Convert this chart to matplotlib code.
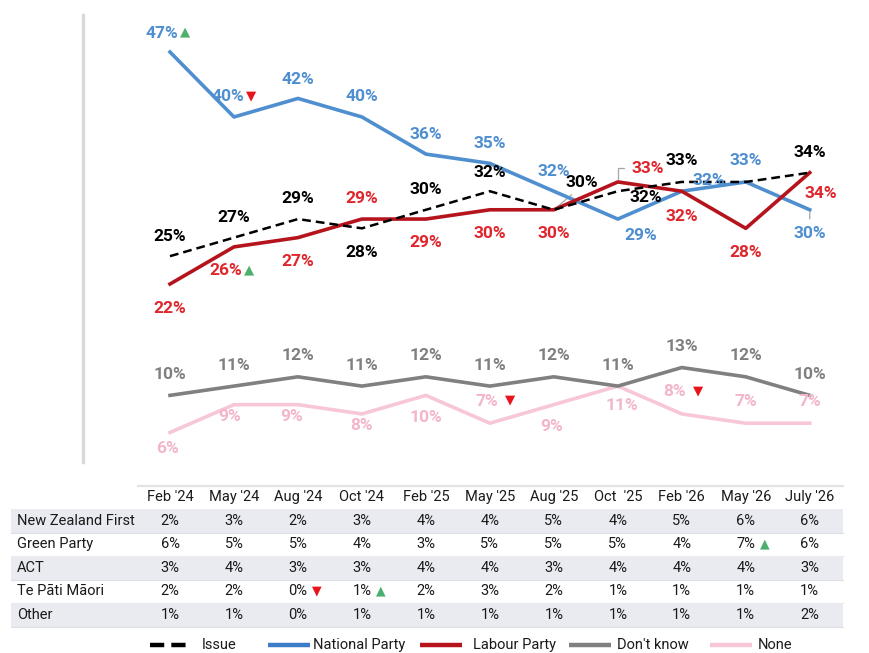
import matplotlib
matplotlib.use("Agg")
import matplotlib.pyplot as plt
from matplotlib.transforms import blended_transform_factory, offset_copy

plt.rcParams['font.family'] = ['Roboto', 'DejaVu Sans']

# ---------------- data ----------------
waves = ["Feb '24", "May '24", "Aug '24", "Oct '24", "Feb '25", "May '25",
         "Aug '25", "Oct  '25", "Feb '26", "May '26", "July '26"]
issue = [25, 27, 29, 28, 30, 32, 30, 32, 33, 33, 34]
national = [47, 40, 42, 40, 36, 35, 32, 29, 32, 33, 30]
labour = [22, 26, 27, 29, 29, 30, 30, 33, 32, 28, 34]
dont_know = [10, 11, 12, 11, 12, 11, 12, 11, 13, 12, 10]
none_ = [6, 9, 9, 8, 10, 7, 9, 11, 8, 7, 7]

# significance markers per series: index -> 'up' / 'down'
national_sig = {0: 'up', 1: 'down'}
labour_sig = {1: 'up'}
none_sig = {5: 'down', 8: 'down'}

table_rows = ["New Zealand First", "Green Party", "ACT", "Te Pāti Māori", "Other"]
nz_first = [2, 3, 2, 3, 4, 4, 5, 4, 5, 6, 6]
green = [6, 5, 5, 4, 3, 5, 5, 5, 4, 7, 6]
act = [3, 4, 3, 3, 4, 4, 3, 4, 4, 4, 3]
tpm = [2, 2, 0, 1, 2, 3, 2, 1, 1, 1, 1]
other = [1, 1, 0, 1, 1, 1, 1, 1, 1, 1, 2]
table_vals = [nz_first, green, act, tpm, other]
table_sig = {(3, 2): 'down', (3, 3): 'up', (1, 9): 'up'}

legend_labels = ['Issue', 'National Party', 'Labour Party', "Don't know", 'None']

# ---------------- style ----------------
C_BLUE = '#4f8fcf'
C_RED_LINE = '#b5141c'
C_RED_TXT = '#e0262d'
C_GREY = '#808080'
C_PINK_LINE = '#f7c7d9'
C_PINK_TXT = '#f3b5cc'
C_UP = '#4caf6e'
C_DOWN = '#e8141b'

W, H = 870, 653
fig = plt.figure(figsize=(W / 100, H / 100), dpi=100)

# full figure axes for table / legend (pixel coords)
tax = fig.add_axes([0, 0, 1, 1], zorder=0)
tax.set_xlim(0, W)
tax.set_ylim(H, 0)
tax.axis('off')

ax = fig.add_axes([83 / W, 1 - 462 / H, (843 - 83) / W, (462 - 15) / H], zorder=2)
ax.patch.set_alpha(0)
ax.set_xlim(-1.36, 10.52)
ax.set_ylim(2.82, 50.99)
for s in ['top', 'right', 'bottom']:
    ax.spines[s].set_visible(False)
ax.spines['left'].set_color('#d9d9d9')
ax.spines['left'].set_linewidth(2.4)
ax.set_xticks([])
ax.set_yticks([])

x = list(range(len(waves)))
ax.plot(x, none_, color=C_PINK_LINE, lw=2.6, zorder=3)
ax.plot(x, dont_know, color=C_GREY, lw=2.6, zorder=3)
ax.plot(x, national, color=C_BLUE, lw=2.6, zorder=4)
ax.plot(x, labour, color=C_RED_LINE, lw=2.6, zorder=5)
ax.plot(x, issue, color='black', lw=1.8, ls=(0, (3.5, 2)), zorder=6)

# label offsets in pixels (label centre relative to point)
nat_off = [(-8, -19), (-6, -20), (0, -19), (0, -20), (0, -20), (0, -20),
           (0, -20), (23, 16), (27, -11), (0, -21), (0, 24)]
lab_off = [(0, 24), (-8, 24), (0, 24), (0, -21), (0, 23), (0, 24),
           (0, 24), (30, -13), (0, 25), (0, 24), (11, 21)]
iss_off = [(0, -20), (0, -20), (0, -21), (0, 24), (0, -20), (0, -19),
           (28, -27), (28, 6), (0, -21), None, (0, -20)]
dk_off = [(0, -21)] * 11
none_off = [(-3, 16), (-4, 12), (-6, 12), (0, 12), (0, 22), (-3, -22),
            (-2, 22), (4, 19), (-7, -22), (0, -22), (0, -22)]


def put_labels(vals, offs, color, sig=None, size=12.5):
    sig = sig or {}
    for i, (v, o) in enumerate(zip(vals, offs)):
        if o is None:
            continue
        ax.annotate(f"{v}%", xy=(i, v), xytext=(o[0], -o[1]),
                    textcoords='offset pixels', ha='center', va='center',
                    color=color, fontsize=size, fontweight='bold', zorder=8,
                    annotation_clip=False)
        if i in sig:
            tri = '▲' if sig[i] == 'up' else '▼'
            tc = C_UP if sig[i] == 'up' else C_DOWN
            ax.annotate(tri, xy=(i, v), xytext=(o[0] + 23, -o[1] + 1),
                        textcoords='offset pixels', ha='center', va='center',
                        color=tc, fontsize=9.5, family='DejaVu Sans', zorder=8,
                        annotation_clip=False)


put_labels(national, nat_off, C_BLUE, national_sig)
put_labels(labour, lab_off, C_RED_TXT, labour_sig)
put_labels(issue, iss_off, 'black')
put_labels(dont_know, dk_off, C_GREY)
put_labels(none_, none_off, C_PINK_TXT, none_sig)

# leader lines
lead_kw = dict(color='#a6a6a6', lw=0.9)
ax.annotate('', xy=(10, national[10]), xytext=(0, -12), textcoords='offset pixels',
            arrowprops=dict(arrowstyle='-', **lead_kw), annotation_clip=False)
ax.annotate('', xy=(6, issue[6]), xytext=(20, 17), textcoords='offset pixels',
            arrowprops=dict(arrowstyle='-', **lead_kw), annotation_clip=False)
ax.annotate('', xy=(7, labour[7]), xytext=(9, 14), textcoords='offset pixels',
            arrowprops=dict(arrowstyle='-', connectionstyle='angle,angleA=0,angleB=90,rad=0',
                            **lead_kw), annotation_clip=False)

# ---------------- table ----------------
bt = blended_transform_factory(ax.transData, tax.transData)
bt_tri = offset_copy(bt, fig=fig, x=19, y=0, units='dots')
tax.plot([138, 843], [486, 486], color='#e3e3e3', lw=1.6)
header_y = 497
row_y = [521, 544, 568, 591, 615]
row_h = 23.5
for r, yy in enumerate(row_y):
    if r % 2 == 0:
        tax.add_patch(plt.Rectangle((11, yy - row_h / 2), 832, row_h,
                                    color='#e9ebf0', lw=0, zorder=0))
    tax.plot([11, 843], [yy + row_h / 2, yy + row_h / 2], color='#dcdfe5', lw=0.8, zorder=0)

for i, w in enumerate(waves):
    tax.text(i, header_y, w, transform=bt, ha='center', va='center',
             fontsize=10.5, color='#1a1a1a')
for r, name in enumerate(table_rows):
    tax.text(17, row_y[r], name, ha='left', va='center', fontsize=10.5, color='#1a1a1a')
    for i, v in enumerate(table_vals[r]):
        tax.text(i, row_y[r], f"{v}%", transform=bt, ha='center', va='center',
                 fontsize=10.5, color='#1a1a1a')
        if (r, i) in table_sig:
            s = table_sig[(r, i)]
            tax.text(i, row_y[r], '▲' if s == 'up' else '▼', transform=bt_tri,
                     ha='center', va='center', fontsize=9, family='DejaVu Sans',
                     color=C_UP if s == 'up' else C_DOWN)

# ---------------- legend (drawn manually) ----------------
leg_y = 645
leg_styles = [
    dict(color='black', lw=3.2, ls=(0, (3.2, 1.6))),
    dict(color='#3d7cc9', lw=3.2),
    dict(color=C_RED_LINE, lw=3.2),
    dict(color=C_GREY, lw=3.2),
    dict(color=C_PINK_LINE, lw=3.2),
]
leg_handle_x = [150, 268, 420, 569, 710]
leg_text_x = [202, 313, 473, 617, 758]
for hx, tx, lab, st in zip(leg_handle_x, leg_text_x, legend_labels, leg_styles):
    tax.plot([hx, hx + 42], [leg_y, leg_y], solid_capstyle='butt', dash_capstyle='butt', **st)
    tax.text(tx, leg_y, lab, ha='left', va='center', fontsize=10.5, color='#1a1a1a')

fig.savefig('out.png', dpi=100)
